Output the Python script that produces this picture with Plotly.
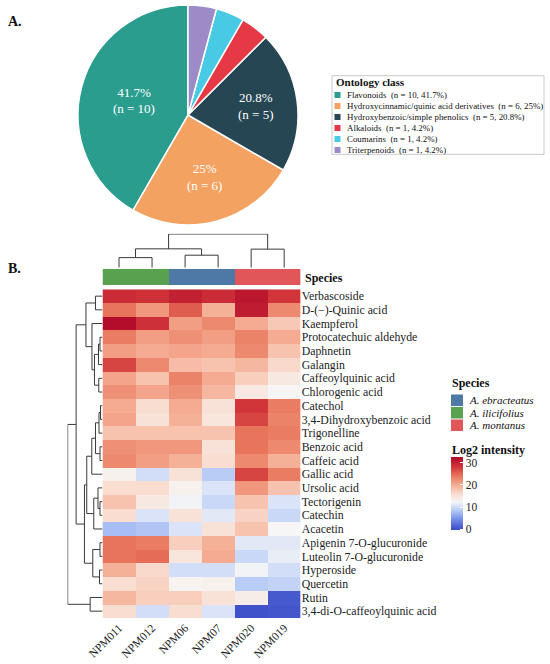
import plotly.graph_objects as go

# ---------------- data ----------------
classes = ["Flavonoids", "Hydroxycinnamic/quinic acid derivatives",
           "Hydroxybenzoic/simple phenolics", "Alkaloids", "Coumarins", "Triterpenoids"]
class_counts = [10, 6, 5, 1, 1, 1]
class_colors = ["#2A9D8F", "#F4A261", "#264653", "#E63946", "#48CAE4", "#9D8BC8"]

samples = ["NPM011", "NPM012", "NPM06", "NPM07", "NPM020", "NPM019"]
sample_species = ["A. ilicifolius", "A. ilicifolius", "A. ebracteatus", "A. ebracteatus",
                  "A. montanus", "A. montanus"]
species = ["A. ebracteatus", "A. ilicifolius", "A. montanus"]
species_colors = ["#4E79A7", "#59A14F", "#E15759"]

compounds = ["Verbascoside", "D-(\u2212)-Quinic acid", "Kaempferol", "Protocatechuic aldehyde",
             "Daphnetin", "Galangin", "Caffeoylquinic acid", "Chlorogenic acid", "Catechol",
             "3,4-Dihydroxybenzoic acid", "Trigonelline", "Benzoic acid", "Caffeic acid",
             "Gallic acid", "Ursolic acid", "Tectorigenin", "Catechin", "Acacetin",
             "Apigenin 7-O-glucuronide", "Luteolin 7-O-glucuronide", "Hyperoside", "Quercetin",
             "Rutin", "3,4-di-O-caffeoylquinic acid"]

intensity = [
    [29.0, 28.5, 30.0, 29.0, 31.0, 28.0],
    [24.0, 21.5, 25.5, 19.5, 30.5, 22.5],
    [32.0, 28.5, 21.0, 22.5, 20.0, 17.5],
    [23.5, 21.0, 22.0, 21.0, 23.0, 20.0],
    [21.0, 20.0, 20.5, 20.0, 22.5, 18.0],
    [27.0, 22.5, 18.5, 18.0, 19.0, 16.0],
    [20.5, 18.0, 23.0, 20.0, 17.0, 14.0],
    [22.0, 20.5, 22.0, 19.0, 14.0, 12.5],
    [20.0, 15.5, 20.0, 15.0, 28.0, 23.5],
    [20.5, 15.0, 19.5, 14.5, 27.0, 23.0],
    [18.0, 18.0, 18.0, 18.0, 24.0, 23.5],
    [22.0, 21.5, 21.5, 15.0, 24.0, 22.5],
    [22.5, 21.0, 19.5, 15.5, 22.5, 19.5],
    [13.0, 10.0, 15.0, 8.5, 27.0, 23.5],
    [15.5, 15.5, 13.0, 10.5, 21.5, 18.0],
    [18.0, 14.0, 12.0, 9.5, 18.0, 10.5],
    [15.5, 10.5, 15.0, 11.0, 16.5, 9.5],
    [7.5, 8.0, 10.5, 15.0, 18.0, 12.3],
    [24.0, 23.5, 17.0, 19.5, 11.0, 11.0],
    [24.0, 24.5, 14.5, 20.0, 9.5, 11.5],
    [19.5, 16.0, 10.0, 10.0, 12.0, 10.0],
    [15.5, 16.5, 12.7, 13.0, 8.5, 9.0],
    [19.0, 17.0, 17.0, 15.0, 13.5, 0.5],
    [15.5, 10.0, 15.5, 10.5, 0.0, 0.3],
]

# cluster trees: (left, right, merge height); leaves are row/column indices
row_tree = (
    (
        ((0, 1, 7.0), (2, (((3, 4, 2.5), 5, 4.0), (6, 7, 3.7), 8.0), 10.5), 16.5),
        (
            (
                ((((8, 9, 2.0), 10, 3.5), (11, 12, 2.5), 7.0), 13, 10.7),
                (((15, 16, 2.5), 14, 4.5), 17, 8.7),
                15.7,
            ),
            ((18, 19, 2.5), (20, 21, 3.0), 9.7),
            18.0,
        ),
        26.3,
    ),
    (22, 23, 12.3),
    34.7,
)
col_tree = (((0, 1, 10.0), (2, 3, 12.4), 18.7), (4, 5, 18.4), 33.4)

# ---------------- helpers ----------------
W, H = 550, 664
FONT = "Liberation Serif"


def fx(p):
    return p / W


def fy(p):
    return 1 - p / H


def dendro(node):
    if isinstance(node, int):
        return float(node), 0.0, [], []
    l, r, h = node
    pl, hl, xl, yl = dendro(l)
    pr, hr, xr, yr = dendro(r)
    xs = xl + xr + [pl, pl, pr, pr, None]
    ys = yl + yr + [hl, h, h, hr, None]
    return (pl + pr) / 2, h, xs, ys


ZMIN, ZMAX = -0.5, 32.5
stops = [(-0.5, "#3A4BC6"), (5, "#7D97EC"), (9, "#C2D3F7"), (12.3, "#F6F6F6"),
         (16, "#F9D9CB"), (20, "#F4AB91"), (24, "#E8755B"), (28, "#D13539"), (32.5, "#B0082A")]
cscale = [[(v - ZMIN) / (ZMAX - ZMIN), c] for v, c in stops]

fig = go.Figure()

# ---------------- pie ----------------
total = sum(class_counts)
pcts = [round(100 * c / total, 1) for c in class_counts]
pie_text = [f"{p:g}%<br>(n = {c})" if p > 10 else "" for p, c in zip(pcts, class_counts)]
fig.add_trace(go.Pie(
    labels=classes, values=class_counts, text=pie_text, textinfo="text",
    textposition="inside", insidetextorientation="horizontal",
    sort=False, direction="counterclockwise", rotation=-360 * class_counts[0] / total,
    marker=dict(colors=class_colors, line=dict(color="white", width=1.5)),
    textfont=dict(family=FONT, size=13, color="white"),
    domain=dict(x=[fx(78), fx(298)], y=[fy(225), fy(5)]),
    showlegend=False, hoverinfo="skip",
))

# ---------------- heatmap ----------------
fig.add_trace(go.Heatmap(
    z=intensity, x=samples, y=compounds, xaxis="x", yaxis="y",
    colorscale=cscale, zmin=ZMIN, zmax=ZMAX, hoverinfo="skip",
    colorbar=dict(x=fx(451), xanchor="left", xpad=0, y=fy(457.3), yanchor="top", ypad=0,
                  len=72.7, lenmode="pixels", thickness=12, thicknessmode="pixels",
                  outlinewidth=0, tickvals=[0, 10, 20, 30], ticks="inside", ticklen=3,
                  tickcolor="white", tickfont=dict(family=FONT, size=11.5, color="#222")),
))

# species annotation bar
sp_idx = [species.index(s) for s in sample_species]
sp_scale = [[0, species_colors[0]], [1 / 3, species_colors[0]], [1 / 3, species_colors[1]],
            [2 / 3, species_colors[1]], [2 / 3, species_colors[2]], [1, species_colors[2]]]
fig.add_trace(go.Heatmap(
    z=[sp_idx], x=list(range(len(samples))), y=[0], xaxis="x2", yaxis="y2",
    colorscale=sp_scale, zmin=0, zmax=len(species) - 1, showscale=False, hoverinfo="skip",
))

# column dendrogram
_, _, cx, cy = dendro(col_tree)
fig.add_trace(go.Scatter(x=cx, y=cy, mode="lines", xaxis="x3", yaxis="y3",
                         line=dict(color="#3a3a3a", width=1), hoverinfo="skip", showlegend=False))
# row dendrogram
_, _, rp, rh = dendro(row_tree)
fig.add_trace(go.Scatter(x=rh, y=rp, mode="lines", xaxis="x4", yaxis="y4",
                         line=dict(color="#3a3a3a", width=1), hoverinfo="skip", showlegend=False))

hm_x = [fx(102.5), fx(300.7)]
hm_y = [fy(618), fy(289.3)]
nr, nc = len(compounds), len(samples)
fig.update_layout(
    width=W, height=H, margin=dict(l=0, r=0, t=0, b=0, pad=0, autoexpand=False),
    paper_bgcolor="white", plot_bgcolor="white", showlegend=False, hovermode=False,
    font=dict(family=FONT, color="#111"),
    xaxis=dict(domain=hm_x, anchor="y", tickangle=-45, showgrid=False, zeroline=False,
               automargin=False, tickmode="array", tickvals=samples, ticktext=samples,
               ticks="", ticklabelstandoff=0, tickfont=dict(family=FONT, size=11.5, color="#222")),
    yaxis=dict(domain=hm_y, anchor="x", side="right", autorange="reversed", showgrid=False,
               automargin=False, tickmode="array", tickvals=compounds, ticktext=compounds,
               zeroline=False, ticks="", tickfont=dict(family=FONT, size=11.8, color="#222")),
    xaxis2=dict(domain=hm_x, anchor="y2", range=[-0.5, nc - 0.5], visible=False),
    yaxis2=dict(domain=[fy(285.3), fy(269)], anchor="x2", range=[-0.5, 0.5], visible=False),
    xaxis3=dict(domain=hm_x, anchor="y3", range=[-0.5, nc - 0.5], visible=False),
    yaxis3=dict(domain=[fy(267.7), fy(233.8)], anchor="x3", range=[0, 33.6], visible=False),
    xaxis4=dict(domain=[fx(67.5), fx(102.5)], anchor="y4", range=[34.9, 0], visible=False),
    yaxis4=dict(domain=hm_y, anchor="x4", range=[nr - 0.5, -0.5], visible=False),
)

shapes = []
ann = []


def text(x, y, s, size, **kw):
    ann.append(dict(x=fx(x), y=fy(y), xref="paper", yref="paper", text=s, showarrow=False,
                    xanchor=kw.get("xanchor", "left"), yanchor="middle",
                    font=dict(family=FONT, size=size, color=kw.get("color", "#111"))))


def rect(x0, y0, x1, y1, fill, line=None):
    shapes.append(dict(type="rect", xref="paper", yref="paper", x0=fx(x0), x1=fx(x1),
                       y0=fy(y1), y1=fy(y0), fillcolor=fill,
                       line=dict(color=line or fill, width=1 if line else 0)))


# panel letters
text(6, 22, "<b>A.</b>", 14)
text(6, 268, "<b>B.</b>", 14)

# ontology legend
rect(332, 75.7, 544, 154.3, "rgba(0,0,0,0)", line="#C8C8C8")
text(334, 82, "<b>Ontology class</b>", 11)
for i, (c, n, p, col) in enumerate(zip(classes, class_counts, pcts, class_colors)):
    yy = 95 + 11 * i
    rect(334.5, yy - 3, 340.5, yy + 3, col)
    text(345, yy, f"{c}  (n = {n}, {p:g}%)", 8.9)

# species annotation label
text(303, 277.5, "<b>Species</b>", 12)

# species legend
text(450, 383.3, "<b>Species</b>", 12)
for i, (s, col) in enumerate(zip(species, species_colors)):
    top = 394.5 + 12.5 * i
    rect(451, top, 463, top + 11.5, col)
    text(466.5, top + 5.8, f"<i>{s}</i>", 11)

# colourbar title
text(450, 450, "<b>Log2 intensity</b>", 12)

fig.update_layout(shapes=shapes, annotations=ann)
fig.write_html("out.html", config={"displayModeBar": False},
               post_script="document.body.style.margin='0';document.body.style.padding='0';")
